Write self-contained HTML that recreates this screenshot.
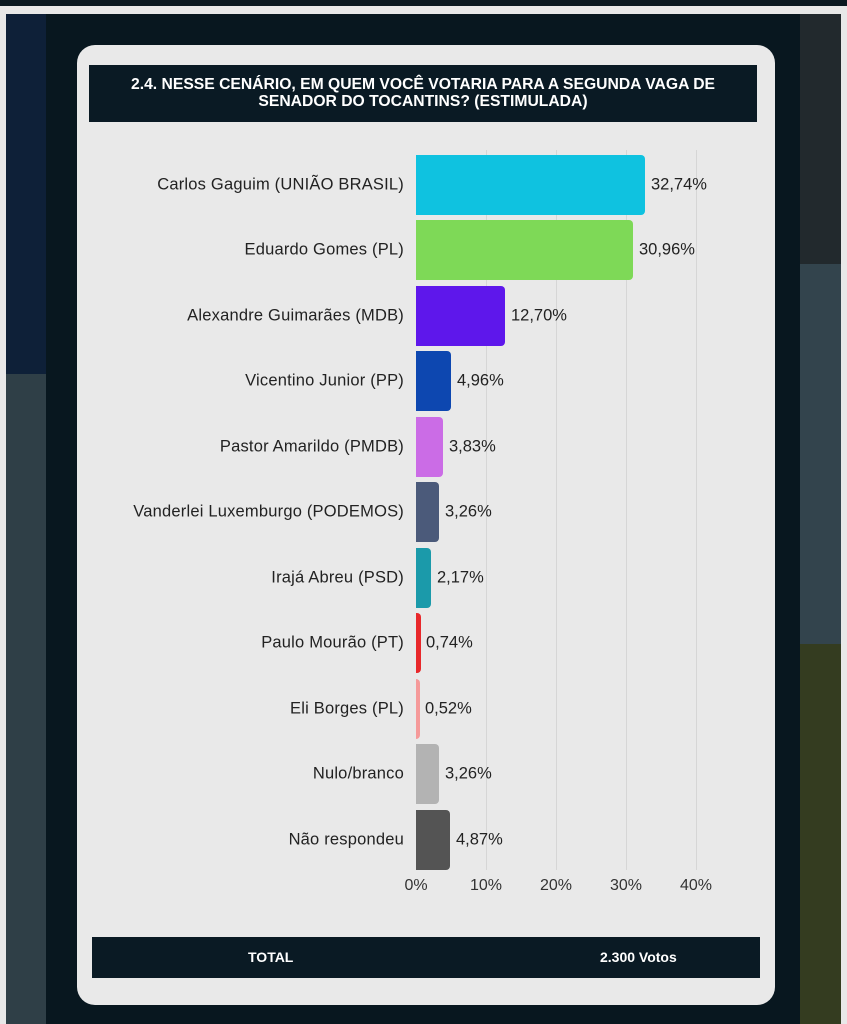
<!DOCTYPE html>
<html><head><meta charset="utf-8"><style>
*{margin:0;padding:0;box-sizing:border-box}
body{width:847px;height:1024px;position:relative;overflow:hidden;background:#e8e8e8;font-family:"Liberation Sans",sans-serif}
.abs{position:absolute}
.lbl{position:absolute;right:443px;font-size:16.5px;letter-spacing:0.2px;color:#222;text-align:right;white-space:nowrap;transform:translateY(-50%)}
.bar{position:absolute;left:416px;height:60px;border-radius:0 4px 4px 0}
.val{position:absolute;font-size:16.5px;color:#222;transform:translateY(-50%)}
.grid{position:absolute;top:150px;height:720px;width:1px;background:#d6d6d6}
.tick{position:absolute;top:877px;font-size:16px;color:#333;transform:translateX(-50%)}
</style></head><body>
<div class="abs" style="left:0;top:0;width:847px;height:6px;background:#0a1820"></div>
<div class="abs" style="left:6px;top:14px;width:835px;height:1010px;background:#08171f"></div>
<div class="abs" style="left:6px;top:14px;width:40px;height:360px;background:#0e2038"></div>
<div class="abs" style="left:6px;top:374px;width:40px;height:650px;background:#2f3f47"></div>
<div class="abs" style="left:800px;top:14px;width:41px;height:250px;background:#22292d"></div>
<div class="abs" style="left:800px;top:264px;width:41px;height:380px;background:#33444d"></div>
<div class="abs" style="left:800px;top:644px;width:41px;height:380px;background:#343c20"></div>
<div class="abs" style="left:77px;top:45px;width:698px;height:960px;background:#e9e9e9;border-radius:18px"></div>
<div class="abs" style="left:89px;top:65px;width:668px;height:57px;background:#0a1a24;color:#fff;font-weight:bold;font-size:15.7px;text-align:center;line-height:17px;padding-top:11px">2.4. NESSE CENÁRIO, EM QUEM VOCÊ VOTARIA PARA A SEGUNDA VAGA DE<br>SENADOR DO TOCANTINS? (ESTIMULADA)</div>
<div class="grid" style="left:486px"></div><div class="grid" style="left:556px"></div><div class="grid" style="left:626px"></div><div class="grid" style="left:696px"></div>

<div class="bar" style="top:155px;width:229px;background:#0fc2e0"></div>
<div class="bar" style="top:220px;width:217px;background:#7ed957"></div>
<div class="bar" style="top:286px;width:89px;background:#5e17eb"></div>
<div class="bar" style="top:351px;width:35px;background:#0d47b0"></div>
<div class="bar" style="top:417px;width:27px;background:#cb6ce6"></div>
<div class="bar" style="top:482px;width:23px;background:#4b5a7a"></div>
<div class="bar" style="top:548px;width:15px;background:#1b9aaa"></div>
<div class="bar" style="top:613px;width:5px;background:#e8282b"></div>
<div class="bar" style="top:679px;width:4px;background:#f59a9a"></div>
<div class="bar" style="top:744px;width:23px;background:#b3b3b3"></div>
<div class="bar" style="top:810px;width:34px;background:#545454"></div>

<div class="lbl" style="top:185px">Carlos Gaguim (UNIÃO BRASIL)</div>
<div class="lbl" style="top:250px">Eduardo Gomes (PL)</div>
<div class="lbl" style="top:316px">Alexandre Guimarães (MDB)</div>
<div class="lbl" style="top:381px">Vicentino Junior (PP)</div>
<div class="lbl" style="top:447px">Pastor Amarildo (PMDB)</div>
<div class="lbl" style="top:512px">Vanderlei Luxemburgo (PODEMOS)</div>
<div class="lbl" style="top:578px">Irajá Abreu (PSD)</div>
<div class="lbl" style="top:643px">Paulo Mourão (PT)</div>
<div class="lbl" style="top:709px">Eli Borges (PL)</div>
<div class="lbl" style="top:774px">Nulo/branco</div>
<div class="lbl" style="top:840px">Não respondeu</div>

<div class="val" style="left:651px;top:185px">32,74%</div>
<div class="val" style="left:639px;top:250px">30,96%</div>
<div class="val" style="left:511px;top:316px">12,70%</div>
<div class="val" style="left:457px;top:381px">4,96%</div>
<div class="val" style="left:449px;top:447px">3,83%</div>
<div class="val" style="left:445px;top:512px">3,26%</div>
<div class="val" style="left:437px;top:578px">2,17%</div>
<div class="val" style="left:426px;top:643px">0,74%</div>
<div class="val" style="left:425px;top:709px">0,52%</div>
<div class="val" style="left:445px;top:774px">3,26%</div>
<div class="val" style="left:456px;top:840px">4,87%</div>

<div class="tick" style="left:416px">0%</div><div class="tick" style="left:486px">10%</div><div class="tick" style="left:556px">20%</div><div class="tick" style="left:626px">30%</div><div class="tick" style="left:696px">40%</div>

<div class="abs" style="left:92px;top:937px;width:668px;height:41px;background:#0a1a24;color:#fff;font-weight:bold;font-size:14px">
<span class="abs" style="left:156px;top:12px">TOTAL</span><span class="abs" style="left:508px;top:12px">2.300 Votos</span></div>
</body></html>
